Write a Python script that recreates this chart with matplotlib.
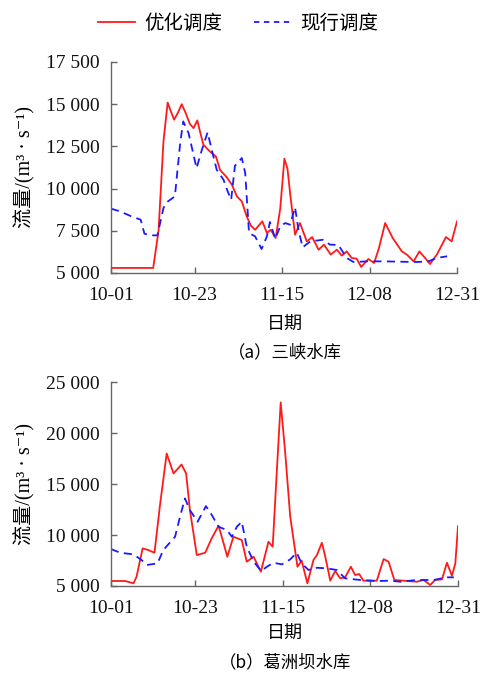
import matplotlib
matplotlib.use("Agg")
import matplotlib.pyplot as plt
from matplotlib.lines import Line2D

plt.rcParams['font.family'] = ['Liberation Serif', 'Noto Sans CJK SC', 'DejaVu Sans']
plt.rcParams['axes.unicode_minus'] = False

CJK = ['Noto Sans CJK SC', 'DejaVu Sans']

# ---------------- data (day index from 10-01) ----------------
tick_days = [0, 22, 45, 68, 91]
tick_labels = ["10-01", "10-23", "11-15", "12-08", "12-31"]

# (a) Three Gorges
sx_opt_days = [0, 5, 11.1, 12.5, 13.8, 14.9, 15.7, 16.6, 17.6, 18.6, 19.6, 20.7, 21.7, 22.7, 23.5, 24.3,
               26.0, 27.6, 28.7, 30.4, 31.8, 33.1, 34.4, 35.7, 36.8, 37.9, 39.8, 41.0, 42.0, 43.3,
               44.5, 45.6, 46.4, 47.1, 48.4, 49.7, 51.5, 52.9, 54.6, 56.0, 57.8, 59.4, 60.7, 62.0,
               63.3, 64.6, 65.8, 67.7, 69.2, 70.5, 72.1, 74.1, 76.5, 77.8, 79.6, 81.1, 82.6, 83.9,
               85.7, 88.1, 89.6, 91.0]
sx_opt_vals = [5300, 5300, 5300, 7500, 12800, 15100, 14600, 14080, 14500, 15000, 14500, 13850, 13580, 14040, 13300, 12600,
               12200, 11900, 11100, 10680, 10230, 9540, 9240, 8350, 7800, 7560, 8060, 7370, 7560, 7070,
               8800, 11770, 11200, 9740, 7270, 7960, 6870, 7130, 6380, 6680, 6090, 6380, 6030, 6280,
               5890, 5850, 5360, 5830, 5590, 6500, 7960, 7070, 6280, 6090, 5690, 6280, 5890, 5530,
               6090, 7130, 6870, 8060]

sx_cur_days = [0, 2.4, 5.4, 7.8, 8.8, 10.3, 12.2, 13.8, 14.6, 16.8, 18.2, 19.0, 20.4, 22.5, 23.9, 25.4,
               26.5, 27.8, 29.6, 30.7, 31.6, 32.6, 34.4, 35.3, 36.3, 37.9, 39.6, 41.0, 41.8, 43.2,
               44.5, 45.8, 47.1, 48.4, 49.3, 50.4, 52.4, 55.7, 57.6, 59.8, 62.0, 63.8, 67.3, 71.7,
               76.1, 80.4, 83.5, 85.7, 88.4]
sx_cur_vals = [8810, 8650, 8350, 8160, 7330, 7230, 7230, 8850, 9180, 9540, 12700, 13980, 13290, 11210, 12300, 13330,
               12300, 11120, 10520, 9830, 9340, 11350, 11810, 10920, 7370, 7170, 6420, 7170, 8020, 7030,
               7760, 7960, 7860, 8890, 7560, 6520, 6870, 6970, 6680, 6660, 5890, 5650, 5690, 5690,
               5670, 5650, 5690, 5890, 5990]

# (b) Gezhouba
gz_opt_days = [0, 3.7, 5.9, 6.7, 8.3, 9.8, 11.4, 12.9, 14.6, 16.4, 18.5, 19.7, 20.7, 22.5, 24.7, 26.4,
               28.2, 29.3, 30.5, 32.1, 34.3, 35.6, 37.4, 39.3, 41.3, 42.4, 43.5, 44.5, 45.7, 47.0,
               48.9, 50.0, 51.5, 53.1, 54.0, 55.3, 56.2, 57.5, 58.8, 60.1, 61.4, 62.9, 64.0, 65.1,
               66.2, 69.7, 71.5, 72.8, 74.3, 80.2, 82.0, 83.7, 85.0, 86.8, 88.1, 89.4, 90.3, 91.0]
gz_opt_vals = [5490, 5490, 5260, 5910, 8690, 8520, 8260, 13090, 17990, 16030, 16910, 16030, 12440, 8030, 8260, 9670,
               10910, 9500, 7870, 9830, 9500, 7380, 7870, 6400, 9340, 8850, 16360, 23000, 17990, 11790,
               6890, 7480, 5260, 7550, 8030, 9240, 7870, 5520, 6470, 5750, 5850, 6890, 6080, 6170,
               5520, 5520, 7640, 7380, 5590, 5420, 5590, 5100, 5590, 5650, 7280, 6010, 7220, 10870]

gz_cur_days = [0, 2.4, 5.9, 8.0, 9.4, 12.2, 13.7, 16.8, 18.1, 19.4, 20.7, 22.7, 24.9, 26.2, 28.2, 30.4,
               31.7, 33.0, 34.3, 35.6, 37.4, 39.4, 40.9, 42.6, 44.8, 47.0, 48.7, 50.0, 51.8, 54.0,
               56.6, 59.2, 61.4, 65.4, 69.7, 73.2, 75.9, 80.2, 84.6, 88.1, 89.9]
gz_cur_vals = [8620, 8260, 8100, 7550, 7060, 7220, 8520, 9830, 11790, 13580, 12440, 11300, 12830, 12110, 10810, 10480,
               9830, 10810, 11300, 8850, 7380, 6470, 6890, 7280, 7120, 7610, 8260, 7220, 6570, 6790,
               6730, 6570, 5750, 5590, 5490, 5520, 5420, 5590, 5590, 5850, 5850]

series_names = ["优化调度", "现行调度"]
captions = ["（a）三峡水库", "（b）葛洲坝水库"]
xlabel = "日期"
ylabel = "流量/(m³ · s⁻¹)"
yticks_a = [5000, 7500, 10000, 12500, 15000, 17500]
yticks_b = [5000, 10000, 15000, 20000, 25000]

# ---------------- figure ----------------
W, H = 481, 677
fig = plt.figure(figsize=(W / 100, H / 100), dpi=100)

def fmt(v):
    s = f"{v:,}"
    return s.replace(",", " ")

def make_ax(rect, opt_d, opt_v, cur_d, cur_v, yticks, caption, xlab_y, cap_y):
    ax = fig.add_axes(rect)
    ax.plot(opt_d, opt_v, color='#ff1a1a', lw=1.3, solid_joinstyle='round')
    ax.plot(cur_d, cur_v, color='#1a1aff', lw=1.3, dashes=(4.5, 3))
    ax.set_xlim(0, 91)
    ax.set_ylim(yticks[0], yticks[-1])
    ax.set_xticks(tick_days)
    ax.set_xticklabels(tick_labels)
    ax.set_yticks(yticks)
    ax.set_yticklabels([fmt(v) for v in yticks])
    for s in ['top', 'right']:
        ax.spines[s].set_visible(False)
    for s in ['left', 'bottom']:
        ax.spines[s].set_color('#666666')
        ax.spines[s].set_linewidth(1.0)
    ax.tick_params(direction='in', length=4, width=1, color='#666666',
                   labelsize=14, pad=8, labelcolor='#111111')
    ax.tick_params(axis='x', pad=10)
    ax.set_ylabel(ylabel, fontsize=14.5, labelpad=8,
                  family=['Liberation Serif', 'Noto Sans CJK SC', 'DejaVu Sans'])
    fig.text(0.593, xlab_y, xlabel, ha='center', va='center', fontsize=13, family=CJK)
    fig.text(0.593, cap_y, caption, ha='center', va='center', fontsize=12.5, family=CJK)
    return ax

def fy(py):
    return 1 - py / H

ax1 = make_ax([111 / W, fy(273), (457 - 111) / W, (273 - 62) / H],
              sx_opt_days, sx_opt_vals, sx_cur_days, sx_cur_vals, yticks_a,
              captions[0], fy(325), fy(352))
ax2 = make_ax([111 / W, fy(586), (458 - 111) / W, (586 - 382) / H],
              gz_opt_days, gz_opt_vals, gz_cur_days, gz_cur_vals, yticks_b,
              captions[1], fy(634), fy(662))

handles = [Line2D([], [], color='#ff1a1a', lw=1.3),
           Line2D([], [], color='#1a1aff', lw=1.3, dashes=(3, 2.5))]
leg = fig.legend(handles, series_names, loc='center', bbox_to_anchor=(0.495, fy(23)),
                 ncol=2, frameon=False, handlelength=1.9, columnspacing=1.6,
                 handletextpad=0.5, prop={'family': CJK, 'size': 14})

fig.savefig("out.png", dpi=100)
